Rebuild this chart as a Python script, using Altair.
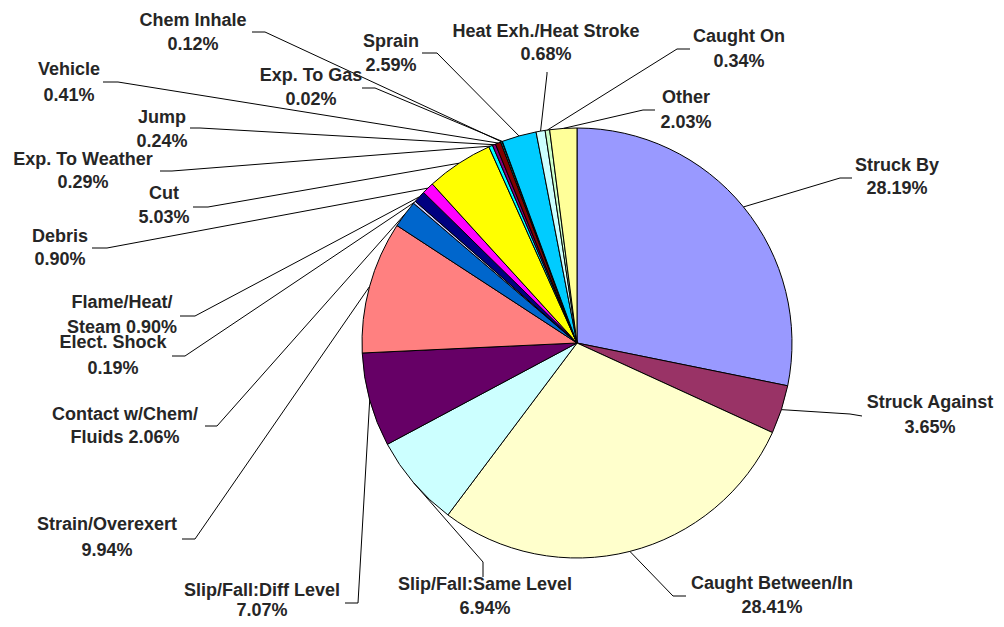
import math
import altair as alt
import pandas as pd

# ---- data ----
categories = ["Struck By", "Struck Against", "Caught Between/In", "Slip/Fall:Same Level",
              "Slip/Fall:Diff Level", "Strain/Overexert", "Contact w/Chem/Fluids", "Elect. Shock",
              "Flame/Heat/Steam", "Debris", "Cut", "Exp. To Weather", "Jump", "Vehicle",
              "Chem Inhale", "Exp. To Gas", "Sprain", "Heat Exh./Heat Stroke", "Caught On", "Other"]
percents = [28.19, 3.65, 28.41, 6.94, 7.07, 9.94, 2.06, 0.19, 0.90, 0.90, 5.03, 0.29, 0.24,
            0.41, 0.12, 0.02, 2.59, 0.68, 0.34, 2.03]
colors = ["#9999FF", "#993366", "#FFFFCC", "#CCFFFF", "#660066", "#FF8080", "#0066CC", "#CCCCFF",
          "#000080", "#FF00FF", "#FFFF00", "#00FFFF", "#800080", "#800000", "#008080", "#0000FF",
          "#00CCFF", "#CCFFFF", "#CCFFCC", "#FFFF99"]
label_line1 = ["Struck By", "Struck Against", "Caught Between/In", "Slip/Fall:Same Level",
               "Slip/Fall:Diff Level", "Strain/Overexert", "Contact w/Chem/", "Elect. Shock",
               "Flame/Heat/", "Debris", "Cut", "Exp. To Weather", "Jump", "Vehicle",
               "Chem Inhale", "Exp. To Gas", "Sprain", "Heat Exh./Heat Stroke", "Caught On", "Other"]
label_prefix2 = ["", "", "", "", "", "", "Fluids ", "", "Steam ", "", "", "", "", "", "", "", "", "", "", ""]

# ---- layout (page pixel coordinates) ----
W, H, M = 988, 611, 8
pie_cx, pie_cy, pie_r = 577, 343, 215
label_x = [897, 930, 772, 485, 262, 107, 125, 113, 122, 60, 164, 83, 162, 69, 193, 311, 391, 546, 739, 686]
label_y1 = [166, 403, 584, 585, 591, 525, 415, 343, 303, 237, 194, 160, 118, 70, 21, 76, 42, 32, 37, 98]
label_y2 = [189, 428, 608, 609, 611, 551, 438, 369, 328, 260, 218, 183, 142, 96, 45, 100, 66, 55, 62, 123]
elbow_x = [840, 850, 673, 483, 358, 195, 217, 185, 195, 107, 208, 172, 200, 118, 265, 375, 437, 547, 677, 643]
elbow_y = [178, 414, 596, 562, 603, 539, 426, 356, 316, 248, 207, 171, 128, 82, 32, 88, 53, 74, 49, 110]
end_x = [852, 862, 686, 483, 345, 182, 205, 172, 180, 92, 193, 160, 190, 103, 252, 362, 422, 547, 690, 655]
end_y = [178, 416, 596, 577, 603, 539, 426, 356, 316, 248, 207, 171, 128, 82, 32, 88, 53, 72, 49, 110]

# ---- tables ----
pie_df = pd.DataFrame({"cat": categories, "pct": percents, "idx": list(range(len(categories)))})

total = sum(percents)
rows = []
cum = 0.0
for i, (c, p) in enumerate(zip(categories, percents)):
    mid = (cum + p / 2) / total * 2 * math.pi
    cum += p
    sx = pie_cx + pie_r * math.sin(mid)
    sy = pie_cy - pie_r * math.cos(mid)
    rows.append({"cat": c, "o": 0, "x": sx, "y": sy})
    rows.append({"cat": c, "o": 1, "x": elbow_x[i], "y": elbow_y[i]})
    rows.append({"cat": c, "o": 2, "x": end_x[i], "y": end_y[i]})
lead_df = pd.DataFrame(rows)

lab_rows = []
for i, c in enumerate(categories):
    lab_rows.append({"cat": c, "t": label_line1[i], "x": label_x[i], "y": label_y1[i]})
    lab_rows.append({"cat": c, "t": f"{label_prefix2[i]}{percents[i]:.2f}%", "x": label_x[i], "y": label_y2[i]})
lab_df = pd.DataFrame(lab_rows)

xs = alt.Scale(domain=[M, M + W], range=[0, W])
ys = alt.Scale(domain=[M, M + H], range=[0, H])

pie = alt.Chart(pie_df).mark_arc(radius=pie_r, stroke="#000000", strokeWidth=1).encode(
    theta=alt.Theta("pct:Q", stack=True),
    color=alt.Color("cat:N", scale=alt.Scale(domain=categories, range=colors), legend=None),
    order=alt.Order("idx:Q"),
    x=alt.value(pie_cx - M),
    y=alt.value(pie_cy - M),
)

leaders = alt.Chart(lead_df).mark_line(color="#000000", strokeWidth=1).encode(
    x=alt.X("x:Q", scale=xs, axis=None),
    y=alt.Y("y:Q", scale=ys, axis=None),
    detail="cat:N",
    order="o:Q",
)

labels = alt.Chart(lab_df).mark_text(
    font="Liberation Sans", fontSize=18, fontWeight="bold", color="#262626",
    align="center", baseline="middle",
).encode(
    x=alt.X("x:Q", scale=xs, axis=None),
    y=alt.Y("y:Q", scale=ys, axis=None),
    text="t:N",
)

chart = alt.layer(pie, leaders, labels).properties(
    width=W, height=H, padding=0, autosize=alt.AutoSizeParams(type="none")
).configure_view(stroke=None)

chart.save("out.html", embed_options={"renderer": "svg", "actions": False})
